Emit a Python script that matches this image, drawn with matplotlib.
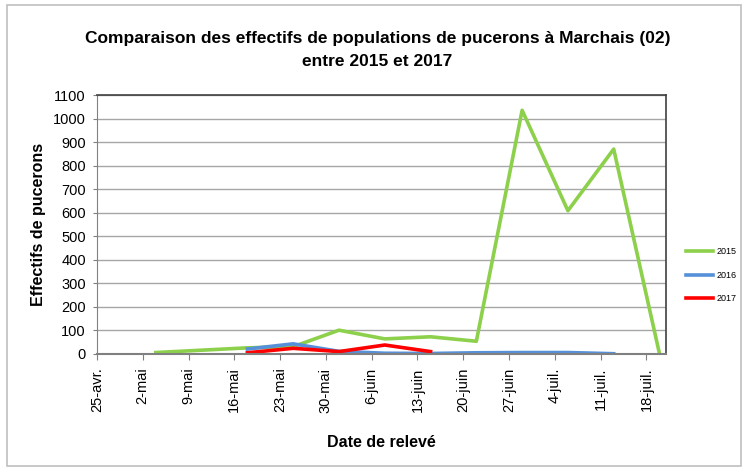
import matplotlib
matplotlib.use("Agg")
import matplotlib.pyplot as plt
import pandas as pd
from matplotlib.patches import Rectangle

plt.rcParams['font.family'] = ['Liberation Sans', 'DejaVu Sans']

# releves (ramenes sur un meme calendrier)
dates_2015 = ["2015-05-04", "2015-05-11", "2015-05-18", "2015-05-25", "2015-06-01", "2015-06-08",
              "2015-06-15", "2015-06-22", "2015-06-29", "2015-07-06", "2015-07-13", "2015-07-20"]
vals_2015 = [5, 15, 25, 30, 100, 63, 72, 53, 1035, 608, 870, 0]

dates_2016 = ["2015-05-18", "2015-05-25", "2015-06-01", "2015-06-08", "2015-06-15",
              "2015-06-22", "2015-06-29", "2015-07-06", "2015-07-13"]
vals_2016 = [20, 42, 10, 2, 1, 4, 5, 5, 0]

dates_2017 = ["2015-05-18", "2015-05-25", "2015-06-01", "2015-06-08", "2015-06-15"]
vals_2017 = [4, 23, 9, 37, 9]

tick_dates = ["2015-04-25", "2015-05-02", "2015-05-09", "2015-05-16", "2015-05-23", "2015-05-30",
              "2015-06-06", "2015-06-13", "2015-06-20", "2015-06-27", "2015-07-04", "2015-07-11",
              "2015-07-18"]
tick_labels = ["25-avr.", "2-mai", "9-mai", "16-mai", "23-mai", "30-mai", "6-juin", "13-juin",
               "20-juin", "27-juin", "4-juil.", "11-juil.", "18-juil."]

fig = plt.figure(figsize=(7.43, 4.68), dpi=100)
fig.patches.append(Rectangle((0.009, 0.004), 0.988, 0.985, transform=fig.transFigure,
                             fill=False, edgecolor='#bfbfbf', linewidth=1.2))
ax = fig.add_axes([0.1305, 0.2442, 0.7659, 0.5528])

ax.plot(pd.to_datetime(dates_2015), vals_2015, color='#8cd04b', lw=2.6, label='2015')
ax.plot(pd.to_datetime(dates_2016), vals_2016, color='#5590d8', lw=2.6, label='2016')
ax.plot(pd.to_datetime(dates_2017), vals_2017, color='#ff0000', lw=2.6, label='2017')

ax.set_xlim(pd.Timestamp("2015-04-25"), pd.Timestamp("2015-07-21"))
ax.set_ylim(0, 1100)
ax.set_yticks(range(0, 1101, 100))
ax.set_xticks(pd.to_datetime(tick_dates))
ax.set_xticklabels(tick_labels, rotation=90, fontsize=10.5)
ax.tick_params(axis='y', labelsize=10.5, length=3, color='#808080', pad=5)
ax.tick_params(axis='x', length=4, color='#808080', pad=6)
ax.yaxis.grid(True, color='#a6a6a6', lw=1)
ax.set_axisbelow(True)
for s in ['top', 'right']:
    ax.spines[s].set_color('#404040')
    ax.spines[s].set_linewidth(1.2)
ax.spines['left'].set_color('#808080')
ax.spines['bottom'].set_color('#808080')
ax.spines['bottom'].set_linewidth(1.5)

ax.set_ylabel('Effectifs de pucerons', fontsize=11.5, fontweight='bold', labelpad=5)
ax.set_xlabel('Date de relevé', fontsize=11.5, fontweight='bold', labelpad=16)
fig.text(0.508, 0.893, 'Comparaison des effectifs de populations de pucerons à Marchais (02)\nentre 2015 et 2017',
         ha='center', va='center', fontsize=12.5, fontweight='bold', linespacing=1.6)

fig.legend(loc='center left', bbox_to_anchor=(0.913, 0.412), frameon=False, fontsize=6.5,
           handlelength=2.9, labelspacing=1.6, handletextpad=0.4)

fig.savefig('out.png', dpi=100)
